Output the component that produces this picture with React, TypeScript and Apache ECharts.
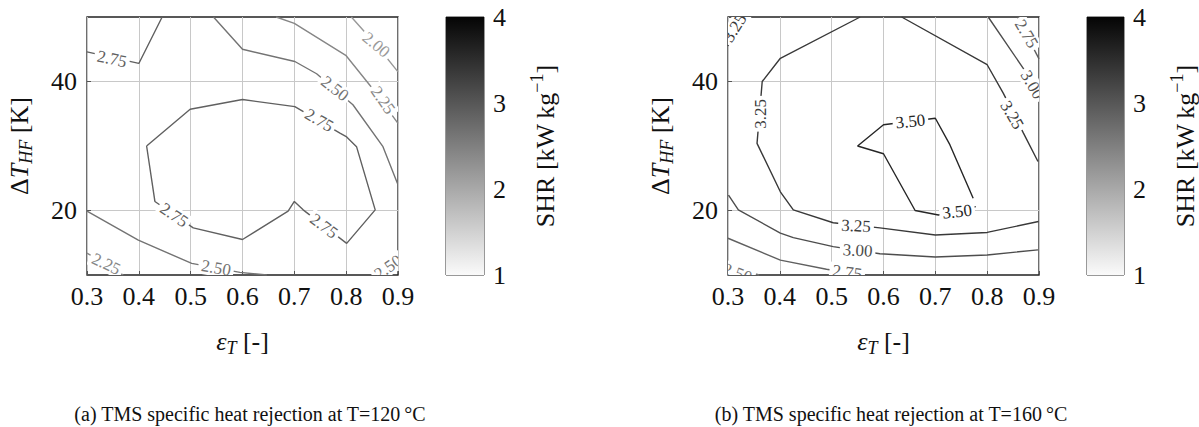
import React, { useEffect, useRef } from 'react';
import * as echarts from 'echarts';

// ---------- data ----------
const xTicks = [0.3, 0.4, 0.5, 0.6, 0.7, 0.8, 0.9];
const yTickLabels = [20, 40];
const cbTicks = [1, 2, 3, 4];

// T = 120 °C contour lines  [eps_T, dT_HF]
const c120_275_corner = [[0.3, 44.6], [0.4, 42.8], [0.445, 50]];
const c120_275_loop = [[0.415, 30.0], [0.499, 35.7], [0.6, 37.2], [0.701, 36.1], [0.788, 32.0], [0.801, 31.4], [0.82, 29.9], [0.856, 20.1], [0.801, 14.9], [0.717, 20.1], [0.7, 21.4], [0.688, 19.9], [0.6, 15.5], [0.505, 17.3], [0.431, 21.4], [0.415, 30.0]];
const c120_250_top = [[0.544, 50], [0.6, 45.0], [0.701, 43.1], [0.743, 41.2], [0.813, 36.4], [0.871, 29.9], [0.899, 24.2]];
const c120_250_bottom = [[0.3, 19.9], [0.399, 15.4], [0.502, 11.8], [0.595, 10.4], [0.647, 10]];
const c120_250_corner = [[0.86, 10], [0.9, 12.8]];
const c120_225_top = [[0.665, 50], [0.7, 49], [0.8, 44], [0.85, 39], [0.9, 33.5]];
const c120_225_bottom = [[0.3, 13.4], [0.37, 10]];
const c120_200 = [[0.81, 50], [0.86, 45.5], [0.9, 41.5]];

const lines120 = [
  { level: 2.75, pts: c120_275_corner },
  { level: 2.75, pts: c120_275_loop },
  { level: 2.5, pts: c120_250_top },
  { level: 2.5, pts: c120_250_bottom },
  { level: 2.5, pts: c120_250_corner },
  { level: 2.25, pts: c120_225_top },
  { level: 2.25, pts: c120_225_bottom },
  { level: 2.0, pts: c120_200 },
];
// contour labels: [eps, dT, level, angle]
const labels120 = [
  [0.348, 43.5, 2.75, -12],
  [0.748, 34.0, 2.75, -30],
  [0.757, 17.6, 2.75, -37],
  [0.468, 19.3, 2.75, -34],
  [0.778, 38.9, 2.5, -38],
  [0.549, 11.1, 2.5, -10],
  [0.881, 11.2, 2.5, 35],
  [0.871, 37.1, 2.25, -55],
  [0.337, 11.7, 2.25, -25],
  [0.858, 45.7, 2.0, -40],
];

// T = 160 °C contour lines
const c160_325_main = [[0.555, 50], [0.401, 43.6], [0.366, 40.0], [0.356, 30.4], [0.401, 22.9], [0.426, 20.1], [0.503, 18.1], [0.593, 17.3], [0.7, 16.2], [0.8, 16.6], [0.899, 18.3]];
const c160_325_right = [[0.635, 50], [0.8, 42.6], [0.831, 38.2], [0.87, 32], [0.898, 27.6]];
const c160_325_corner = [[0.3, 45.5], [0.33, 50]];
const c160_350 = [[0.773, 21.9], [0.728, 30.2], [0.7, 34.3], [0.6, 33.3], [0.55, 30.0], [0.6, 28.8], [0.661, 20.0], [0.706, 19.3], [0.778, 20.6]];
const c160_300_bottom = [[0.301, 22.4], [0.32, 20.1], [0.401, 16.5], [0.426, 15.8], [0.503, 14.4], [0.593, 13.3], [0.7, 12.8], [0.8, 13.1], [0.898, 13.9]];
const c160_300_right = [[0.802, 50], [0.87, 42], [0.9, 37.5]];
const c160_275_bottom = [[0.3, 15.7], [0.401, 12.3], [0.49, 10.9], [0.56, 10]];
const c160_275_right = [[0.858, 50], [0.9, 43.5]];
const c160_250 = [[0.3, 11.5], [0.36, 10]];

const lines160 = [
  { level: 3.5, pts: c160_350 },
  { level: 3.25, pts: c160_325_main },
  { level: 3.25, pts: c160_325_right },
  { level: 3.25, pts: c160_325_corner },
  { level: 3.0, pts: c160_300_bottom },
  { level: 3.0, pts: c160_300_right },
  { level: 2.75, pts: c160_275_bottom },
  { level: 2.75, pts: c160_275_right },
  { level: 2.5, pts: c160_250 },
];
const labels160 = [
  [0.652, 33.8, 3.5, 6],
  [0.742, 19.8, 3.5, 6],
  [0.362, 35.0, 3.25, 90],
  [0.547, 17.6, 3.25, -3],
  [0.848, 34.8, 3.25, -60],
  [0.313, 48.3, 3.25, 58],
  [0.55, 13.8, 3.0, -3],
  [0.887, 39.5, 3.0, -60],
  [0.53, 10.4, 2.75, -8],
  [0.876, 47.4, 2.75, -60],
  [0.318, 10.3, 2.5, -20],
];

const captions = ['(a) TMS specific heat rejection at T=120\u2009°C', '(b) TMS specific heat rejection at T=160\u2009°C'];

// ---------- style ----------
const FONT = 'Liberation Serif, Times New Roman, serif';
const levelColor = (v: number) => {
  const g = Math.round(255 * (4 - v) / 3 * 0.9);
  return `rgb(${g},${g},${g})`;
};

const P1 = { left: 87, top: 17, width: 311, height: 258 };
const P2 = { left: 728, top: 17, width: 311, height: 258 };
const CB1 = { left: 446, top: 17, width: 38, height: 258 };
const CB2 = { left: 1087, top: 17, width: 38, height: 258 };

const tickFont = { fontFamily: FONT, fontSize: 26, color: '#111' };

function plotAxes(gridIndex: number) {
  const x = {
    type: 'value', gridIndex, min: 0.3, max: 0.9, interval: 0.1,
    axisLine: { show: false },
    axisTick: { show: true, inside: true, length: 4, lineStyle: { color: '#555' } },
    axisLabel: { ...tickFont, margin: 8, formatter: (v: number) => (xTicks.some(t => Math.abs(t - v) < 1e-6) ? v.toFixed(1) : '') },
    splitLine: { show: true, lineStyle: { color: '#c8c8c8', width: 1 } },
    name: '{i|ε}{s|T}{n| [-]}', nameLocation: 'middle', nameGap: 50,
    nameTextStyle: {
      rich: {
        i: { fontFamily: FONT, fontSize: 26, fontStyle: 'italic', color: '#111' },
        s: { fontFamily: FONT, fontSize: 18, fontStyle: 'italic', color: '#111', padding: [14, 0, 0, 0] },
        n: { fontFamily: FONT, fontSize: 26, color: '#111' },
      },
    },
  };
  const y = {
    type: 'value', gridIndex, min: 10, max: 50, interval: 10,
    axisLine: { show: false },
    axisTick: { show: true, inside: true, length: 4, customValues: yTickLabels, lineStyle: { color: '#555' } },
    axisLabel: { ...tickFont, margin: 10, customValues: yTickLabels },
    splitLine: { show: true, lineStyle: { color: '#c8c8c8', width: 1 } },
    name: '{n|Δ}{i|T}{s|HF}{n| [K]}', nameLocation: 'middle', nameGap: 52, nameRotate: 90,
    nameTextStyle: {
      rich: {
        i: { fontFamily: FONT, fontSize: 26, fontStyle: 'italic', color: '#111' },
        s: { fontFamily: FONT, fontSize: 18, fontStyle: 'italic', color: '#111', padding: [14, 0, 0, 0] },
        n: { fontFamily: FONT, fontSize: 26, color: '#111' },
      },
    },
  };
  return { x, y };
}

function cbAxes(gridIndex: number) {
  const x = { type: 'category', gridIndex, data: ['c'], show: false };
  const yRight = {
    type: 'value', gridIndex, min: 1, max: 4, interval: 1, position: 'right',
    axisLine: { show: false },
    axisTick: { show: true, inside: true, length: 11, lineStyle: { color: '#999' } },
    axisLabel: { ...tickFont, margin: 9, formatter: (v: number) => (cbTicks.includes(v) ? String(v) : '') },
    splitLine: { show: false },
    name: '{n|SHR [kW\u2009kg}{p|−1}{n|]}', nameLocation: 'middle', nameGap: 44, nameRotate: 90,
    nameTextStyle: {
      rich: {
        n: { fontFamily: FONT, fontSize: 26, color: '#111' },
        p: { fontFamily: FONT, fontSize: 18, color: '#111', padding: [0, 0, 16, 0] },
      },
    },
  };
  const yLeft = {
    type: 'value', gridIndex, min: 1, max: 4, interval: 1, position: 'left',
    axisLine: { show: false },
    axisTick: { show: true, inside: true, length: 11, lineStyle: { color: '#999' } },
    axisLabel: { show: false },
    splitLine: { show: false },
  };
  return { x, yRight, yLeft };
}

function lineSeries(lines: { level: number; pts: number[][] }[], xi: number, yi: number) {
  return lines.map(l => ({
    type: 'line', xAxisIndex: xi, yAxisIndex: yi, data: l.pts, showSymbol: false, symbol: 'none',
    lineStyle: { color: levelColor(l.level), width: 1.4 }, z: 3, silent: true, clip: true,
  }));
}

function labelSeries(labels: number[][], xi: number, yi: number) {
  return {
    type: 'custom', xAxisIndex: xi, yAxisIndex: yi, clip: true, z: 6, silent: true,
    data: labels.map(l => [l[0], l[1]]),
    renderItem: (params: any, api: any) => {
      const l = labels[params.dataIndex];
      const p = api.coord([l[0], l[1]]);
      return {
        type: 'text', x: p[0], y: p[1], rotation: (l[3] * Math.PI) / 180,
        style: {
          text: l[2].toFixed(2), fill: levelColor(l[2]), font: `17px ${FONT}`,
          align: 'center', verticalAlign: 'middle', textAlign: 'center', textVerticalAlign: 'middle',
          backgroundColor: '#fff', padding: [0, 3],
        },
      };
    },
  };
}

function cbSeries(xi: number, yi: number) {
  return [
    { type: 'bar', xAxisIndex: xi, yAxisIndex: yi, stack: 'cb' + xi, data: [1], barWidth: '100%', itemStyle: { color: 'rgba(0,0,0,0)' }, silent: true },
    {
      type: 'bar', xAxisIndex: xi, yAxisIndex: yi, stack: 'cb' + xi, data: [3], barWidth: '100%', silent: true,
      itemStyle: {
        color: new echarts.graphic.LinearGradient(0, 0, 0, 1, [
          { offset: 0, color: '#050505' },
          { offset: 1, color: '#fafafa' },
        ]),
      },
    },
  ];
}

export default function App() {
  const ref = useRef<HTMLDivElement>(null);
  useEffect(() => {
    if (!ref.current) return;
    const chart = echarts.init(ref.current, undefined, { renderer: 'svg' });
    const a1 = plotAxes(0);
    const b1 = cbAxes(1);
    const a2 = plotAxes(2);
    const b2 = cbAxes(3);
    const gridStyle = { show: true, borderColor: '#222', borderWidth: 1.3, backgroundColor: 'rgba(0,0,0,0)', containLabel: false };
    const option: any = {
      animation: false,
      backgroundColor: '#fff',
      grid: [
        { ...P1, ...gridStyle },
        { ...CB1, ...gridStyle, borderColor: '#333', borderWidth: 1 },
        { ...P2, ...gridStyle },
        { ...CB2, ...gridStyle, borderColor: '#333', borderWidth: 1 },
      ],
      xAxis: [a1.x, b1.x, a2.x, b2.x],
      yAxis: [a1.y, b1.yRight, b1.yLeft, a2.y, b2.yRight, b2.yLeft],
      series: [
        ...lineSeries(lines120, 0, 0),
        labelSeries(labels120, 0, 0),
        ...cbSeries(1, 1),
        ...lineSeries(lines160, 2, 3),
        labelSeries(labels160, 2, 3),
        ...cbSeries(3, 4),
      ],
      graphic: [
        { type: 'text', x: 250, y: 414, style: { text: captions[0], font: `20px ${FONT}`, fill: '#111', align: 'center', verticalAlign: 'middle', textAlign: 'center', textVerticalAlign: 'middle' } },
        { type: 'text', x: 891, y: 414, style: { text: captions[1], font: `20px ${FONT}`, fill: '#111', align: 'center', verticalAlign: 'middle', textAlign: 'center', textVerticalAlign: 'middle' } },
      ],
    };
    chart.setOption(option);
    return () => chart.dispose();
  }, []);
  return <div ref={ref} style={{ position: 'fixed', left: 0, top: 0, width: 1199, height: 427, background: '#fff' }} />;
}
